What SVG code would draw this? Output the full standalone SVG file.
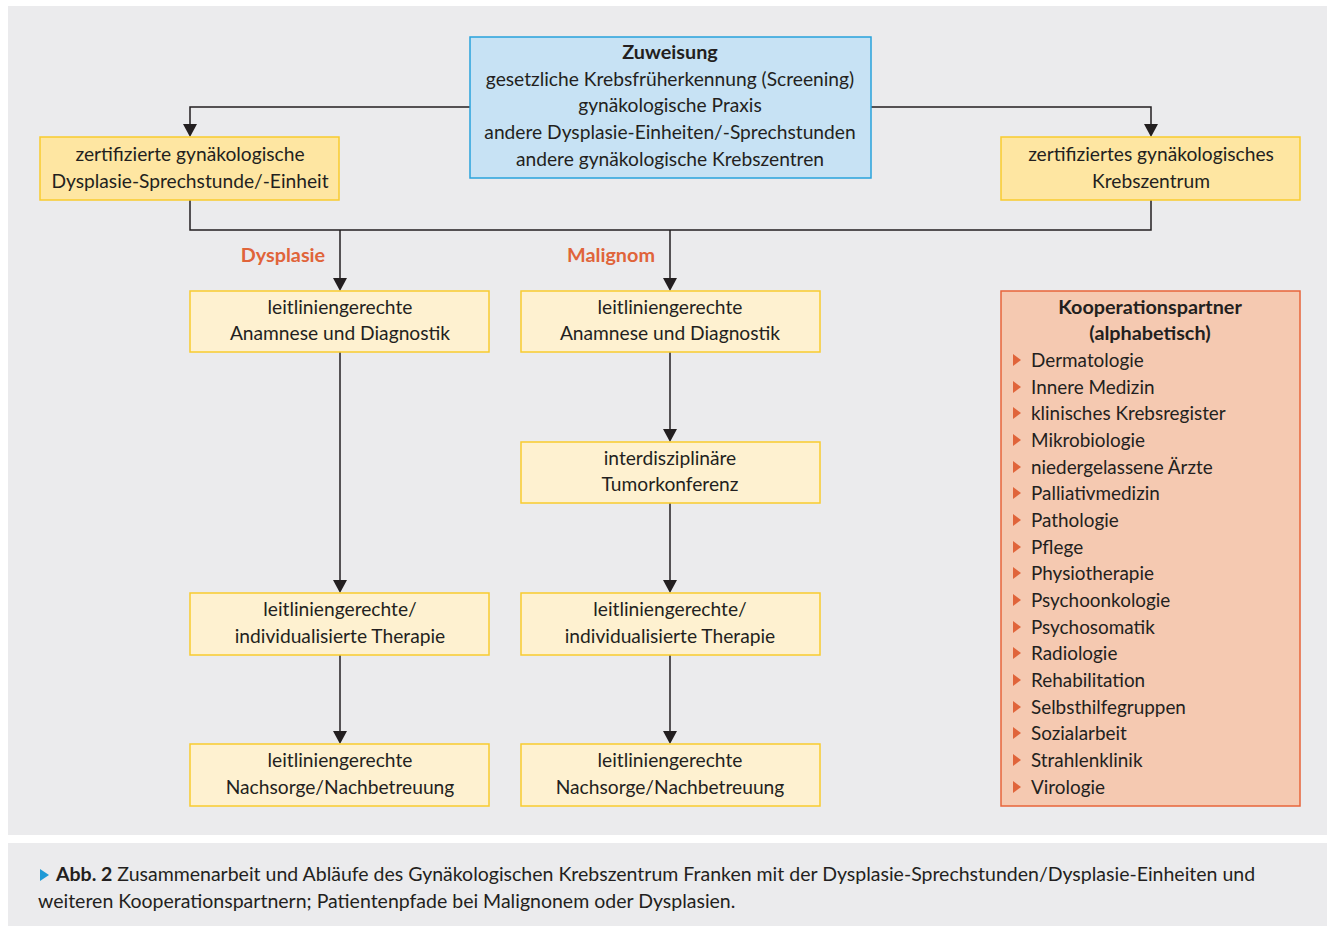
<svg xmlns="http://www.w3.org/2000/svg" width="1327" height="926" viewBox="0 0 1327 926">
<style>
text{font-family:Lato,"Open Sans","Liberation Sans",sans-serif;font-size:19.2px;fill:#231f20}
.c{text-anchor:middle}
.b{font-weight:bold;font-size:19.8px}
.lbl{font-weight:bold;font-size:19.8px;fill:#e0643a;text-anchor:middle}
.li{font-size:18.9px}
.cap{font-size:19.5px}
.y1{fill:#fee6a2;stroke:#f9cb2e;stroke-width:1.5}
.y2{fill:#fef1d0;stroke:#f9cb2e;stroke-width:1.5}
.con{fill:none;stroke:#231f20;stroke-width:1.5}
.ah{fill:#231f20}
.bul{fill:#e0643a}
</style>
<rect x="8" y="6" width="1319" height="829" fill="#ebebed"/>
<rect x="8" y="843" width="1319" height="83" fill="#ebebed"/>

<g id="connectors">
<path class="con" d="M470,107 H190 V125"/>
<path class="ah" d="M183,124 L197,124 L190,137 Z"/>
<path class="con" d="M871,107 H1151 V125"/>
<path class="ah" d="M1144,124 L1158,124 L1151,137 Z"/>
<path class="con" d="M190,200 V230 H1151 V200"/>
<path class="con" d="M340,230 V279"/>
<path class="ah" d="M333,278 L347,278 L340,291 Z"/>
<path class="con" d="M670,230 V279"/>
<path class="ah" d="M663,278 L677,278 L670,291 Z"/>
<path class="con" d="M340,352 V581"/>
<path class="ah" d="M333,580 L347,580 L340,593 Z"/>
<path class="con" d="M340,655 V732"/>
<path class="ah" d="M333,731 L347,731 L340,744 Z"/>
<path class="con" d="M670,352 V430"/>
<path class="ah" d="M663,429 L677,429 L670,442 Z"/>
<path class="con" d="M670,503 V581"/>
<path class="ah" d="M663,580 L677,580 L670,593 Z"/>
<path class="con" d="M670,655 V732"/>
<path class="ah" d="M663,731 L677,731 L670,744 Z"/>
</g>

<g id="zuweisung">
<rect x="470" y="37" width="401" height="141" fill="#c7e2f4" stroke="#29a3dc" stroke-width="1.5"/>
<text class="c b" x="670" y="59">Zuweisung</text>
<text class="c" x="670" y="86">gesetzliche Krebsfrüherkennung (Screening)</text>
<text class="c" x="670" y="112">gynäkologische Praxis</text>
<text class="c" x="670" y="139">andere Dysplasie-Einheiten/-Sprechstunden</text>
<text class="c" x="670" y="166">andere gynäkologische Krebszentren</text>
</g>

<g id="dysplasie-einheit">
<rect class="y1" x="40" y="137" width="299" height="63"/>
<text class="c" x="190" y="161">zertifizierte gynäkologische</text>
<text class="c" x="190" y="188">Dysplasie-Sprechstunde/-Einheit</text>
</g>

<g id="krebszentrum">
<rect class="y1" x="1001" y="137" width="299" height="63"/>
<text class="c" x="1151" y="161">zertifiziertes gynäkologisches</text>
<text class="c" x="1151" y="188">Krebszentrum</text>
</g>

<g id="label-dysplasie"><text class="lbl" x="283" y="262">Dysplasie</text></g>
<g id="label-malignom"><text class="lbl" x="611" y="262">Malignom</text></g>

<g id="d-anamnese">
<rect class="y2" x="190" y="291" width="299" height="61"/>
<text class="c" x="340" y="314">leitliniengerechte</text>
<text class="c" x="340" y="340">Anamnese und Diagnostik</text>
</g>
<g id="m-anamnese">
<rect class="y2" x="521" y="291" width="299" height="61"/>
<text class="c" x="670" y="314">leitliniengerechte</text>
<text class="c" x="670" y="340">Anamnese und Diagnostik</text>
</g>
<g id="m-tumorkonferenz">
<rect class="y2" x="521" y="442" width="299" height="61"/>
<text class="c" x="670" y="465">interdisziplinäre</text>
<text class="c" x="670" y="491">Tumorkonferenz</text>
</g>
<g id="d-therapie">
<rect class="y2" x="190" y="593" width="299" height="62"/>
<text class="c" x="340" y="616">leitliniengerechte/</text>
<text class="c" x="340" y="643">individualisierte Therapie</text>
</g>
<g id="m-therapie">
<rect class="y2" x="521" y="593" width="299" height="62"/>
<text class="c" x="670" y="616">leitliniengerechte/</text>
<text class="c" x="670" y="643">individualisierte Therapie</text>
</g>
<g id="d-nachsorge">
<rect class="y2" x="190" y="744" width="299" height="62"/>
<text class="c" x="340" y="767">leitliniengerechte</text>
<text class="c" x="340" y="794">Nachsorge/Nachbetreuung</text>
</g>
<g id="m-nachsorge">
<rect class="y2" x="521" y="744" width="299" height="62"/>
<text class="c" x="670" y="767">leitliniengerechte</text>
<text class="c" x="670" y="794">Nachsorge/Nachbetreuung</text>
</g>

<g id="kooperationspartner">
<rect x="1001" y="291" width="299" height="515" fill="#f5c9b1" stroke="#e8643a" stroke-width="1.5"/>
<text class="c b" x="1150" y="314">Kooperationspartner</text>
<text class="c b" x="1150" y="340">(alphabetisch)</text>
<g class="bul">
<path d="M1013,354 L1021,360 L1013,366 Z"/>
<path d="M1013,381 L1021,387 L1013,393 Z"/>
<path d="M1013,407 L1021,413 L1013,419 Z"/>
<path d="M1013,434 L1021,440 L1013,446 Z"/>
<path d="M1013,461 L1021,467 L1013,473 Z"/>
<path d="M1013,487 L1021,493 L1013,499 Z"/>
<path d="M1013,514 L1021,520 L1013,526 Z"/>
<path d="M1013,541 L1021,547 L1013,553 Z"/>
<path d="M1013,567 L1021,573 L1013,579 Z"/>
<path d="M1013,594 L1021,600 L1013,606 Z"/>
<path d="M1013,621 L1021,627 L1013,633 Z"/>
<path d="M1013,647 L1021,653 L1013,659 Z"/>
<path d="M1013,674 L1021,680 L1013,686 Z"/>
<path d="M1013,701 L1021,707 L1013,713 Z"/>
<path d="M1013,727 L1021,733 L1013,739 Z"/>
<path d="M1013,754 L1021,760 L1013,766 Z"/>
<path d="M1013,781 L1021,787 L1013,793 Z"/>
</g>
<g class="li">
<text class="li" x="1031" y="367">Dermatologie</text>
<text class="li" x="1031" y="394">Innere Medizin</text>
<text class="li" x="1031" y="420">klinisches Krebsregister</text>
<text class="li" x="1031" y="447">Mikrobiologie</text>
<text class="li" x="1031" y="474">niedergelassene Ärzte</text>
<text class="li" x="1031" y="500">Palliativmedizin</text>
<text class="li" x="1031" y="527">Pathologie</text>
<text class="li" x="1031" y="554">Pflege</text>
<text class="li" x="1031" y="580">Physiotherapie</text>
<text class="li" x="1031" y="607">Psychoonkologie</text>
<text class="li" x="1031" y="634">Psychosomatik</text>
<text class="li" x="1031" y="660">Radiologie</text>
<text class="li" x="1031" y="687">Rehabilitation</text>
<text class="li" x="1031" y="714">Selbsthilfegruppen</text>
<text class="li" x="1031" y="740">Sozialarbeit</text>
<text class="li" x="1031" y="767">Strahlenklinik</text>
<text class="li" x="1031" y="794">Virologie</text>
</g>
</g>

<g id="caption">
<path d="M40,869 L49,875 L40,881 Z" fill="#1f9ad6"/>
<text class="cap" x="56" y="881"><tspan font-weight="bold">Abb. 2</tspan>  Zusammenarbeit und Abläufe des Gynäkologischen Krebszentrum Franken mit der Dysplasie-Sprechstunden/Dysplasie-Einheiten und</text>
<text class="cap" x="38" y="908">weiteren Kooperationspartnern; Patientenpfade bei Malignonem oder Dysplasien.</text>
</g>
</svg>
